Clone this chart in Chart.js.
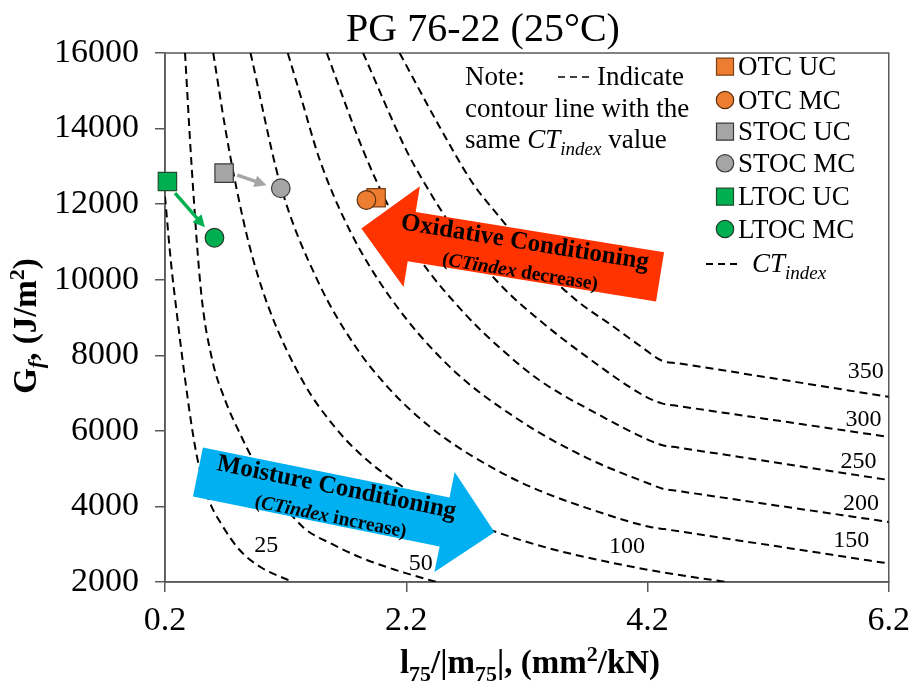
<!DOCTYPE html>
<html>
<head>
<meta charset="utf-8">
<script src="https://cdn.jsdelivr.net/npm/chart.js@4/dist/chart.umd.min.js"></script>
<style>
  html, body { margin: 0; padding: 0; background: #fff; }
  #wrap { width: 919px; height: 683px; }
</style>
</head>
<body>
<div id="wrap"><canvas id="chart" width="919" height="683"></canvas></div>
<script>
// axis ticks
const xTicks = [0.2, 2.2, 4.2, 6.2];
const yTicks = [2000, 4000, 6000, 8000, 10000, 12000, 14000, 16000];

// measured mixes: l75/|m75| and Gf
const mixNames = ["OTC UC", "OTC MC", "STOC UC", "STOC MC", "LTOC UC", "LTOC MC"];
const mixRatio = [1.95, 1.87, 0.69, 1.16, 0.22, 0.61];
const mixGf = [12170, 12110, 12820, 12420, 12600, 11110];

// CT_index contour lines
const ctLevels = [25, 50, 100, 150, 200, 250, 300, 350];
const ct25x = [0.2, 0.25, 0.295, 0.357, 0.436, 0.49, 0.564, 0.664, 0.821, 0.995, 1.26];
const ct25y = [12200, 10440, 9190, 7600, 5830, 4950, 4160, 3550, 2840, 2390, 2000];
const ct50x = [0.366, 0.421, 0.5, 0.59, 0.7, 0.821, 0.918, 1.1, 1.345, 1.6, 1.814, 2.1, 2.45];
const ct50y = [16000, 12990, 9650, 7900, 6800, 5930, 5310, 4400, 3450, 2980, 2660, 2330, 2000];
const ct100x = [0.6, 0.7, 0.794, 0.9, 1.055, 1.345, 1.6, 1.814, 2.17, 2.56, 2.915, 3.387, 3.857, 4.3, 4.85];
const ct100y = [16000, 14000, 12400, 10900, 9300, 7300, 6130, 5400, 4520, 3830, 3360, 2890, 2540, 2270, 2000];
const ct150x = [0.909, 1.158, 1.469, 1.786, 2.035, 2.256, 2.532, 2.973, 3.304, 3.8, 4.215, 4.34, 6.2];
const ct150y = [16000, 12500, 9950, 8200, 7200, 6490, 5780, 4920, 4420, 3850, 3460, 3400, 2490];
const ct200x = [1.218, 1.318, 1.483, 1.731, 2.063, 2.559, 3.139, 3.7, 4.215, 4.325, 4.45, 6.2];
const ct200y = [16000, 14930, 13170, 11310, 9550, 7700, 6280, 5280, 4600, 4470, 4410, 3590];
const ct250x = [1.541, 1.842, 2.049, 2.3, 2.7, 3.0, 3.304, 3.8, 4.215, 4.325, 4.45, 6.2];
const ct250y = [16000, 13430, 11970, 10600, 9050, 8130, 7340, 6420, 5750, 5620, 5560, 4700];
const ct300x = [1.842, 2.2, 2.352, 2.6, 3.0, 3.304, 3.7, 4.188, 4.325, 4.45, 6.2];
const ct300y = [16000, 13430, 12550, 11310, 9800, 8930, 7950, 6900, 6720, 6660, 5840];
const ct350x = [2.145, 2.476, 2.75, 2.973, 3.3, 3.608, 3.9, 4.16, 4.325, 4.45, 6.2];
const ct350y = [16000, 14050, 12560, 11660, 10400, 9460, 8800, 8200, 7850, 7790, 6900];

const contours = [
  [ct25x, ct25y], [ct50x, ct50y], [ct100x, ct100y], [ct150x, ct150y],
  [ct200x, ct200y], [ct250x, ct250y], [ct300x, ct300y], [ct350x, ct350y]
];

const serif = "'Liberation Serif', 'Times New Roman', serif";
const font = (size, style) => (style ? style + " " : "") + size + "px " + serif;

const mixStyle = {
  "OTC UC":  { shape: "rect",   fill: "#ED7D31", edge: "#7F3F12" },
  "OTC MC":  { shape: "circle", fill: "#ED7D31", edge: "#5A2D0C" },
  "STOC UC": { shape: "rect",   fill: "#A5A5A5", edge: "#3A3A3A" },
  "STOC MC": { shape: "circle", fill: "#A5A5A5", edge: "#3A3A3A" },
  "LTOC UC": { shape: "rect",   fill: "#00B050", edge: "#1F4E2F" },
  "LTOC MC": { shape: "circle", fill: "#00B050", edge: "#1F3A28" }
};

const mixSets = mixNames.map((name, i) => {
  const st = mixStyle[name];
  return {
    label: name,
    data: [{ x: mixRatio[i], y: mixGf[i] }],
    pointStyle: st.shape,
    pointRadius: st.shape === "rect" ? 13 : 9.3,
    pointHoverRadius: st.shape === "rect" ? 13 : 9.3,
    backgroundColor: st.fill,
    borderColor: st.edge,
    borderWidth: 1.2,
    clip: false,
    order: st.shape === "circle" ? 0 : 1
  };
});

const lineSets = contours.map(([xs, ys], k) => ({
  label: "CT " + ctLevels[k],
  data: xs.map((v, i) => ({ x: v, y: ys[i] })),
  showLine: true,
  pointRadius: 0,
  borderColor: "#000",
  borderWidth: 2,
  borderDash: [8, 5],
  cubicInterpolationMode: "monotone",
  fill: false,
  order: 2
}));

// draws runs of text with mixed fonts, left or centred on x
function richText(ctx, parts, x, y, align) {
  let w = 0;
  parts.forEach(p => { ctx.font = p.font; p.w = ctx.measureText(p.t).width; w += p.w; });
  let cx = align === "center" ? x - w / 2 : x;
  ctx.textAlign = "left";
  parts.forEach(p => {
    ctx.font = p.font;
    ctx.fillText(p.t, cx, y + (p.dy || 0));
    cx += p.w;
  });
}

function blockArrow(ctx, tail, tip, fill, main, sub) {
  const dx = tip[0] - tail[0], dy = tip[1] - tail[1];
  const len = Math.hypot(dx, dy);
  const ang = Math.atan2(dy, dx);
  const hb = len - 51;
  ctx.save();
  ctx.translate(tail[0], tail[1]);
  ctx.rotate(ang);
  ctx.beginPath();
  ctx.moveTo(0, -25);
  ctx.lineTo(hb, -25);
  ctx.lineTo(hb, -51);
  ctx.lineTo(len, 0);
  ctx.lineTo(hb, 51);
  ctx.lineTo(hb, 25);
  ctx.lineTo(0, 25);
  ctx.closePath();
  ctx.fillStyle = fill;
  ctx.fill();
  ctx.restore();

  const cx = tail[0] + dx / len * 139, cy = tail[1] + dy / len * 139;
  let up = ang;
  if (Math.abs(up) > Math.PI / 2) up += Math.PI;
  ctx.save();
  ctx.translate(cx, cy);
  ctx.rotate(up);
  ctx.fillStyle = "#000";
  ctx.textBaseline = "middle";
  richText(ctx, [{ t: main, font: font(25, "bold") }], 0, -12, "center");
  richText(ctx, sub, 0, 18, "center");
  ctx.restore();
}

function lineArrow(ctx, a, b, color) {
  const ang = Math.atan2(b[1] - a[1], b[0] - a[0]);
  const len = Math.hypot(b[0] - a[0], b[1] - a[1]);
  ctx.save();
  ctx.translate(a[0], a[1]);
  ctx.rotate(ang);
  ctx.strokeStyle = color;
  ctx.fillStyle = color;
  ctx.lineWidth = 3.5;
  ctx.beginPath();
  ctx.moveTo(0, 0);
  ctx.lineTo(len - 10, 0);
  ctx.stroke();
  ctx.beginPath();
  ctx.moveTo(len, 0);
  ctx.lineTo(len - 12, -6);
  ctx.lineTo(len - 12, 6);
  ctx.closePath();
  ctx.fill();
  ctx.restore();
}

const decor = {
  id: "decor",
  beforeDatasetsDraw(chart) {
    const { ctx, chartArea: a } = chart;
    ctx.save();
    ctx.strokeStyle = "#595959";
    ctx.lineWidth = 1.5;
    ctx.strokeRect(a.left, a.top, a.right - a.left, a.bottom - a.top);
    ctx.restore();
  },
  afterDatasetsDraw(chart) {
    const { ctx, scales: { x, y } } = chart;
    const P = (vx, vy) => [x.getPixelForValue(vx), y.getPixelForValue(vy)];
    ctx.save();
    ctx.fillStyle = "#000";

    // contour value labels
    const labelAt = [[1.04, 3010], [2.32, 2540], [4.03, 2980], [5.89, 3130],
                     [5.97, 4130], [5.95, 5220], [5.99, 6330], [6.01, 7600]];
    ctx.font = font(24);
    ctx.textAlign = "center";
    ctx.textBaseline = "alphabetic";
    ctLevels.forEach((lv, k) => {
      const p = P(labelAt[k][0], labelAt[k][1]);
      ctx.fillText(String(lv), p[0], p[1] + 8);
    });

    // conditioning arrows
    blockArrow(ctx, P(4.304, 10074), P(1.828, 11356), "#FF3300", "Oxidative Conditioning", [
      { t: "(", font: font(19.5, "bold") },
      { t: "CTindex", font: font(19.5, "italic bold") },
      { t: " decrease)", font: font(19.5, "bold") }
    ]);
    blockArrow(ctx, P(0.473, 4909), P(2.932, 3319), "#00B0F0", "Moisture Conditioning", [
      { t: "(", font: font(19.5, "bold") },
      { t: "CTindex", font: font(19.5, "italic bold") },
      { t: " increase)", font: font(19.5, "bold") }
    ]);

    // UC -> MC arrows
    lineArrow(ctx, P(0.283, 12290), P(0.531, 11390), "#00B050");
    lineArrow(ctx, P(0.799, 12770), P(1.042, 12500), "#A5A5A5");
    ctx.restore();
  },
  afterDraw(chart) {
    const { ctx } = chart;
    ctx.save();
    ctx.fillStyle = "#000";
    ctx.textBaseline = "alphabetic";

    // title
    richText(ctx, [{ t: "PG 76-22 (25°C)", font: font(40) }], 483, 41, "center");

    // x axis title
    richText(ctx, [
      { t: "l", font: font(33, "bold") },
      { t: "75", font: font(22, "bold"), dy: 8 },
      { t: "/|m", font: font(33, "bold") },
      { t: "75", font: font(22, "bold"), dy: 8 },
      { t: "|, (mm", font: font(33, "bold") },
      { t: "2", font: font(22, "bold"), dy: -12 },
      { t: "/kN)", font: font(33, "bold") }
    ], 530, 673, "center");

    // y axis title
    ctx.save();
    ctx.translate(36, 326);
    ctx.rotate(-Math.PI / 2);
    richText(ctx, [
      { t: "G", font: font(33, "bold") },
      { t: "f", font: font(22, "italic bold"), dy: 7 },
      { t: ", (J/m", font: font(33, "bold") },
      { t: "2", font: font(22, "bold"), dy: -12 },
      { t: ")", font: font(33, "bold") }
    ], 0, 0, "center");
    ctx.restore();

    // note
    richText(ctx, [{ t: "Note:", font: font(27) }], 465, 85, "left");
    ctx.strokeStyle = "#000";
    ctx.lineWidth = 1.5;
    ctx.setLineDash([7, 5]);
    ctx.beginPath();
    ctx.moveTo(558, 77);
    ctx.lineTo(593, 77);
    ctx.stroke();
    ctx.setLineDash([]);
    richText(ctx, [{ t: "Indicate", font: font(27) }], 597, 85, "left");
    richText(ctx, [{ t: "contour line with the", font: font(27) }], 465, 116.5, "left");
    richText(ctx, [
      { t: "same ", font: font(27) },
      { t: "CT", font: font(27, "italic") },
      { t: "index", font: font(19, "italic"), dy: 7 },
      { t: " value", font: font(27) }
    ], 465, 148, "left");

    // legend
    const rows = [66.7, 100, 131.7, 163.3, 196.7, 229];
    mixNames.forEach((name, i) => {
      const st = mixStyle[name];
      const cy = rows[i];
      ctx.fillStyle = st.fill;
      ctx.strokeStyle = st.edge;
      ctx.lineWidth = 1.2;
      ctx.beginPath();
      if (st.shape === "rect") ctx.rect(725 - 8.5, cy - 8.5, 17, 17);
      else ctx.arc(725, cy, 8.7, 0, Math.PI * 2);
      ctx.fill();
      ctx.stroke();
      ctx.fillStyle = "#000";
      richText(ctx, [{ t: name, font: font(27) }], 738, cy + 8.5, "left");
    });
    ctx.strokeStyle = "#000";
    ctx.lineWidth = 1.8;
    ctx.setLineDash([7, 5]);
    ctx.beginPath();
    ctx.moveTo(706, 264);
    ctx.lineTo(741, 264);
    ctx.stroke();
    ctx.setLineDash([]);
    richText(ctx, [
      { t: "CT", font: font(27, "italic") },
      { t: "index", font: font(19, "italic"), dy: 7 }
    ], 752, 272, "left");
    ctx.restore();
  }
};

new Chart(document.getElementById("chart"), {
  type: "scatter",
  data: { datasets: [...mixSets, ...lineSets] },
  options: {
    responsive: false,
    devicePixelRatio: 1,
    animation: false,
    layout: { padding: { left: 0, right: 28, top: 53, bottom: 0 } },
    plugins: { legend: { display: false }, tooltip: { enabled: false }, title: { display: false } },
    scales: {
      x: {
        type: "linear",
        min: xTicks[0],
        max: xTicks[xTicks.length - 1],
        afterBuildTicks: s => { s.ticks = xTicks.map(v => ({ value: v })); },
        afterFit: s => { s.height = 101; },
        ticks: {
          font: { family: serif, size: 34 },
          color: "#000",
          padding: 9,
          maxRotation: 0,
          callback: v => Number(v).toFixed(1)
        },
        grid: { drawOnChartArea: false, drawTicks: true, tickLength: 10, tickColor: "#595959", lineWidth: 1.5 },
        border: { display: true, color: "#595959", width: 1.5 }
      },
      y: {
        type: "linear",
        min: yTicks[0],
        max: yTicks[yTicks.length - 1],
        afterBuildTicks: s => { s.ticks = yTicks.map(v => ({ value: v })); },
        afterFit: s => { s.width = 165; },
        ticks: {
          font: { family: serif, size: 34 },
          color: "#000",
          padding: 16,
          callback: v => String(v)
        },
        grid: { drawOnChartArea: false, drawTicks: true, tickLength: 10, tickColor: "#595959", lineWidth: 1.5 },
        border: { display: true, color: "#595959", width: 1.5 }
      }
    }
  },
  plugins: [decor]
});
</script>
</body>
</html>
